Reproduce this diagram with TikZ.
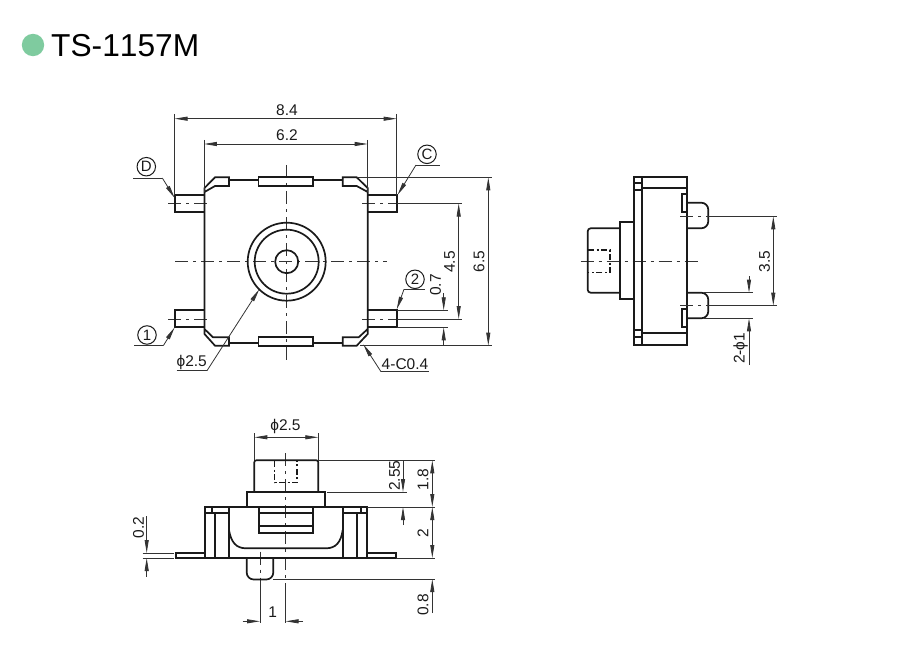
\documentclass[tikz,border=0pt]{standalone}
\usepackage{fontspec}
\setmainfont[Kerning=Off]{Liberation Sans}
\usetikzlibrary{arrows.meta}
\definecolor{ink}{HTML}{1A1A1A}
\definecolor{dimc}{HTML}{333333}
\definecolor{dotc}{HTML}{7FCB9F}
\tikzset{
  outline/.style={draw=ink,line width=1.7pt,line join=miter},
  dimline/.style={draw=dimc,line width=0.8pt},
  ctr/.style={draw=dimc,line width=0.85pt,dash pattern=on 13pt off 5pt on 3pt off 5pt},
  hid/.style={draw=ink,line width=1.2pt,dash pattern=on 6pt off 2.5pt on 2pt off 2.5pt},
  tip/.style={-{Triangle[length=13pt,width=4pt]}},
  lab/.style={font=\fontsize{15.5}{15.5}\selectfont,text=ink,inner sep=0pt},
  vlab/.style={lab,rotate=90},
  bubble/.style={circle,draw=ink,line width=1pt,minimum size=18.5pt,inner sep=0pt,font=\fontsize{15}{15}\selectfont,text=ink},
}
\begin{document}
\begin{tikzpicture}[x=1pt,y=-1pt]
\useasboundingbox (0,0) rectangle (900,650);
% title
\fill[dotc] (33,45) circle (11.2);
\node[anchor=west,inner sep=0pt,font=\fontsize{31.7}{32}\selectfont,text=black] (title) at (51,45.5) {TS-1157M};

%% ---------- top view
\draw[ctr] (175,261.7) -- (387,261.7);
\draw[ctr] (286.7,165) -- (286.7,362);
\draw[ctr] (168,203.5) -- (210,203.5);
\draw[ctr] (168,319) -- (210,319);
\draw[ctr] (362,203.5) -- (403,203.5);
\draw[ctr] (362,319) -- (403,319);
% body outline as one path
\draw[outline] (204.5,192) -- (215,186) -- (229,186) -- (229,177.3) -- (215,177.3) -- (204.5,188) -- (204.5,334) -- (215,345.7) -- (229,345.7) -- (229,337.3) -- (213,337.3) -- (204.5,329);
\draw[outline] (367.7,192) -- (356.7,186) -- (342.7,186) -- (342.7,177.3) -- (356.7,177.3) -- (367.7,188) -- (367.7,334) -- (356.7,345.7) -- (342.7,345.7) -- (342.7,337.3) -- (358.7,337.3) -- (367.7,329);
\draw[outline] (229,180) -- (258.5,180) -- (258.5,177.3) -- (313,177.3) -- (313,185.7) -- (258.5,185.7) -- (258.5,180) (313,180) -- (342.7,180);
\draw[outline] (229,343.3) -- (258.5,343.3) -- (258.5,345.7) -- (313,345.7) -- (313,337.3) -- (258.5,337.3) -- (258.5,343.3) (313,343.3) -- (342.7,343.3);
% leads
\draw[outline] (204.5,195) -- (175,195) -- (175,212) -- (204.5,212);
\draw[outline] (204.5,310.3) -- (175,310.3) -- (175,327.3) -- (204.5,327.3);
\draw[outline] (367.7,195) -- (396.7,195) -- (396.7,212) -- (367.7,212);
\draw[outline] (367.7,310.3) -- (396.7,310.3) -- (396.7,327.3) -- (367.7,327.3);
% plunger circles
\draw[outline] (286.7,261.7) circle (39);
\draw[outline] (286.7,261.7) circle (32);
\draw[outline] (286.7,261.7) circle (11.5);
% top dims
\node[lab] (d84) at (287,110) {8.4};
\node[lab] (d62) at (287,134.7) {6.2};
\draw[dimline] (174.5,114) -- (174.5,195);
\draw[dimline] (396.7,114) -- (396.7,195);
\draw[dimline] (203.9,140) -- (203.9,192);
\draw[dimline] (367.7,140) -- (367.7,192);
\draw[dimline,tip] (286,118.7) -- (174.5,118.7);
\draw[dimline,tip] (286,118.7) -- (396.7,118.7);
\draw[dimline,tip] (286,144) -- (203.9,144);
\draw[dimline,tip] (286,144) -- (367.7,144);
% right dims
\draw[dimline] (357,177.3) -- (491.7,177.3);
\draw[dimline] (360,345.7) -- (491.7,345.7);
\draw[dimline] (396.7,203.5) -- (461.7,203.5);
\draw[dimline] (396.7,319) -- (461.7,319);
\draw[dimline] (396.7,310.3) -- (447.7,310.3);
\draw[dimline] (396.7,327.3) -- (447.7,327.3);
\draw[dimline,tip] (488.3,262) -- (488.3,177.3);
\draw[dimline,tip] (488.3,262) -- (488.3,345.7);
\draw[dimline,tip] (458.7,262) -- (458.7,203.5);
\draw[dimline,tip] (458.7,262) -- (458.7,319);
\draw[dimline,tip] (443.7,293) -- (443.7,310.3);
\draw[dimline,tip] (443.7,345.7) -- (443.7,327.3);
\node[vlab] (d65) at (479,261.5) {6.5};
\node[vlab] (d45) at (449.5,262) {4.5};
\node[vlab] (d07) at (435.5,285) {0.7};
% leaders
\node[bubble] (pinD) at (146.3,166.7) {D};
\node[bubble] (pinC) at (427,154.3) {C};
\node[bubble] (pin1) at (147,335) {1};
\node[bubble] (pin2) at (415,279.3) {2};
\draw[dimline] (133,178) -- (162.3,178);
\draw[dimline,tip] (162.3,178) -- (174.7,198);
\draw[dimline] (416,165) -- (440,165);
\draw[dimline,tip] (416,165) -- (397.5,195);
\draw[dimline] (134,345.7) -- (163.3,345.7);
\draw[dimline,tip] (163.3,345.7) -- (174.7,327.3);
\draw[dimline] (404,289.3) -- (425,289.3);
\draw[dimline,tip] (404,289.3) -- (396.7,309.5);
\node[lab] (phi1) at (191.7,362.7) {ϕ2.5};
\draw[dimline] (176.7,370.7) -- (207,370.7);
\draw[dimline,tip] (207,370.7) -- (259.3,289.3);
\node[lab] (cham) at (405,364) {4-C0.4};
\draw[dimline] (381,371.7) -- (429.3,371.7);
\draw[dimline,tip] (381,371.7) -- (363.3,344.3);

%% ---------- side view
\draw[ctr] (580.7,261.3) -- (700,261.3);
\draw[outline] (634,177.3) rectangle (687.3,345);
\draw[outline] (642,177.3) -- (642,345);
\draw[outline] (642,188) -- (687.3,188) (642,333.3) -- (687.3,333.3);
\draw[outline] (634,183) -- (642,183) (634,190) -- (642,190);
\draw[outline] (634,330) -- (642,330) (634,337.3) -- (642,337.3);
\draw[outline] (634,221.7) -- (620,221.7) -- (620,299.3) -- (634,299.3);
\draw[outline,rounded corners=3pt] (620,228.3) -- (587.7,228.3) -- (587.7,292.7) -- (620,292.7);
\draw[hid] (588,250) -- (610,250) -- (610,272.3) -- (588,272.3);
\draw[outline,rounded corners=7pt] (687.3,202.7) -- (708.3,202.7) -- (708.3,228.3) -- (687.3,228.3);
\draw[outline,rounded corners=7pt] (687.3,292.7) -- (708.3,292.7) -- (708.3,318.3) -- (687.3,318.3);
\draw[outline] (682.3,194) rectangle (687.3,211.7);
\draw[outline] (682.3,309) rectangle (687.3,327.3);
\draw[ctr] (680,216.3) -- (708,216.3);
\draw[ctr] (680,305.7) -- (708,305.7);
\draw[dimline] (708.3,216.3) -- (776.7,216.3);
\draw[dimline] (708.3,305.7) -- (776.7,305.7);
\draw[dimline] (704,292.7) -- (752.7,292.7);
\draw[dimline] (704,318.3) -- (752.7,318.3);
\draw[dimline,tip] (773.3,261) -- (773.3,216.3);
\draw[dimline,tip] (773.3,261) -- (773.3,305.7);
\draw[dimline,tip] (749,276) -- (749,292.7);
\draw[dimline,tip] (749,365) -- (749,318.3);
\node[vlab] (d35) at (764.5,261.7) {3.5};
\node[vlab] (d2p) at (740.5,348.3) {2-ϕ1};

%% ---------- front view
\draw[ctr] (285.5,453) -- (285.5,585);
\draw[dimline] (285.5,585) -- (285.5,623);
\draw[ctr] (260,551.7) -- (260,582);
\draw[dimline] (260,579) -- (260,623);
\draw[outline,rounded corners=2pt] (254.3,492) -- (254.3,460.3) -- (318.3,460.3) -- (318.3,492);
\draw[outline] (247.3,507) -- (247.3,492) -- (324.7,492) -- (324.7,507);
\draw[hid] (274.5,461) -- (274.5,482.5) -- (297,482.5) -- (297,461);
\draw[outline] (204.7,507) rectangle (367.3,558);
\draw[outline] (215,512.7) -- (215,558) (229,507) -- (229,558);
\draw[outline] (357.3,512.7) -- (357.3,558) (342.7,507) -- (342.7,558);
\draw[outline] (204.7,512.7) -- (229,512.7) (342.7,512.7) -- (367.3,512.7);
\draw[outline] (211.7,507) -- (211.7,512.7) (360.7,507) -- (360.7,512.7);
\draw[outline] (259,507) rectangle (313.3,533.3);
\draw[outline] (259,513) -- (313.3,513) (259,525.7) -- (313.3,525.7);
\draw[outline] (229,530) .. controls (231,542) and (236,548.3) .. (246,548.3) -- (326,548.3) .. controls (336,548.3) and (341,542) .. (342.7,530);
\draw[outline] (204.7,553) -- (176,553) -- (176,558) -- (204.7,558);
\draw[outline] (367.3,553) -- (396,553) -- (396,558) -- (367.3,558);
\draw[outline,rounded corners=7pt] (246.7,558) -- (246.7,579.5) -- (273.3,579.5) -- (273.3,558);
% front dims
\node[lab] (d25) at (285.5,426.5) {ϕ2.5};
\draw[dimline] (254.3,433) -- (254.3,460);
\draw[dimline] (318.3,433) -- (318.3,460);
\draw[dimline,tip] (286,437.3) -- (254.3,437.3);
\draw[dimline,tip] (286,437.3) -- (318.3,437.3);
\draw[dimline] (318.3,460.3) -- (435,460.3);
\draw[dimline] (327,492) -- (407.3,492);
\draw[dimline] (367.3,507) -- (435,507);
\draw[dimline] (396,558) -- (435,558);
\draw[dimline] (273,579) -- (435,579);
\draw[dimline,tip] (432.3,483) -- (432.3,460.3);
\draw[dimline,tip] (432.3,483) -- (432.3,507);
\draw[dimline,tip] (432.3,532) -- (432.3,507);
\draw[dimline,tip] (432.3,532) -- (432.3,558);
\draw[dimline,tip] (432.3,613) -- (432.3,579);
\draw[dimline,tip] (403,460.3) -- (403,492);
\draw[dimline,tip] (403,525) -- (403,507);
\node[vlab] (d255) at (394.5,475.7) {2.55};
\node[vlab] (d18) at (423,479.3) {1.8};
\node[vlab] (d2) at (423,533.3) {2};
\node[vlab] (d08) at (423,605) {0.8};
\draw[dimline] (142.7,553) -- (174,553);
\draw[dimline] (142.7,558) -- (174,558);
\draw[dimline,tip] (146.7,516) -- (146.7,553);
\draw[dimline,tip] (146.7,576.7) -- (146.7,558);
\node[vlab] (d02) at (138.5,527.7) {0.2};
\draw[dimline,tip] (242.7,621.3) -- (260,621.3);
\draw[dimline,tip] (303,621.3) -- (285.5,621.3);
\node[lab] (d1) at (272.7,611.7) {1};
\end{tikzpicture}
\end{document}
